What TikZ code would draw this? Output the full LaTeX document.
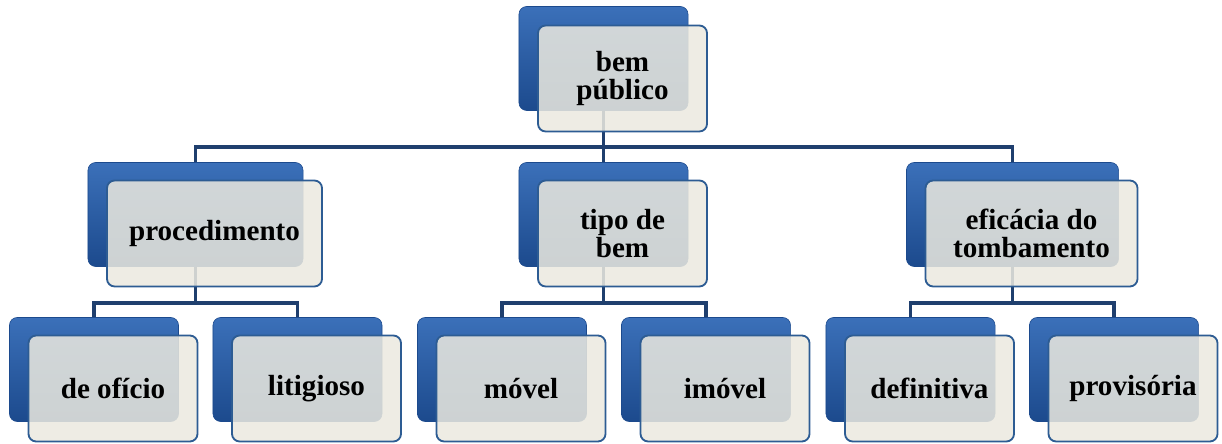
\documentclass[tikz,border=0pt]{standalone}
\usepackage{fontspec}
\setmainfont{Liberation Serif}
\usetikzlibrary{positioning}
\definecolor{blueTop}{HTML}{3B70B9}
\definecolor{blueMid}{HTML}{2459A5}
\definecolor{blueBot}{HTML}{1C4A8D}
\definecolor{paper}{HTML}{EBE9DF}
\definecolor{rim}{HTML}{2D5C93}
\definecolor{navyline}{HTML}{1F3F6E}

\begin{document}
\begin{tikzpicture}[x=0.025cm,y=-0.025cm]
    \useasboundingbox (0,0) rectangle (1222,444);
    \tikzset{back style/.style={rounded corners=5.5pt,
                                top color=blueTop,
                                middle color=blueMid,
                                bottom color=blueBot,
                                draw=blueBot,
                                minimum height=2.6cm,
                                inner sep=0pt,
                                outer sep=0pt},
             front style/.style={rounded corners=5.5pt,
                                 fill=paper,
                                 fill opacity=.86,
                                 text opacity=1,
                                 draw=rim,
                                 line width=1.3pt,
                                 minimum height=2.65cm,
                                 inner sep=0pt,
                                 outer sep=0pt,
                                 align=center,
                                 font=\fontsize{20.7}{19.5}\selectfont\bfseries},
             link/.style={draw=navyline,line width=2.8pt}}

    % busses of the two levels
    \coordinate (bus1) at (0,147);
    \coordinate (bus2) at (0,303);

    % back plates
    \node[back style,minimum width=4.225cm] (bem-b)  at (603.5,58.5) {};
    \node[back style,minimum width=5.375cm] (proc-b) at (195.5,214.5) {};
    \node[back style,minimum width=4.225cm] (tipo-b) at (603.5,214.5) {};
    \node[back style,minimum width=5.3cm]   (efic-b) at (1012.5,214.5) {};
    \foreach \n/\x in {ofic/94,liti/297.5,movel/502,imovel/706,defi/910.5,provi/1114}
      \node[back style,minimum width=4.225cm] (\n-b) at (\x,369.5) {};

    % connectors, behind the front plates
    \foreach \c in {proc,tipo,efic}
      \draw[link] (bem-b.south) -- (bem-b.south |- bus1) -| (\c-b.north);
    \foreach \p/\a/\b in {proc/ofic/liti,tipo/movel/imovel,efic/defi/provi}{%
      \draw[link] (\p-b.south) -- (\p-b.south |- bus2) -| (\a-b.north);
      \draw[link] (\p-b.south) -- (\p-b.south |- bus2) -| (\b-b.north);
    }

    % front plates with the texts
    \node[front style,minimum width=4.225cm] (bem)  at ([shift={(19,20)}]bem-b)  {bem\\público};
    \node[front style,minimum width=5.375cm] (proc) at ([shift={(19,19)}]proc-b) {procedimento};
    \node[front style,minimum width=4.225cm] (tipo) at ([shift={(19,19)}]tipo-b) {tipo de\\bem};
    \node[front style,minimum width=5.3cm]   (efic) at ([shift={(19,19)}]efic-b) {eficácia do\\tombamento};
    \foreach \n/\t in {ofic/de ofício,liti/litigioso,movel/móvel,imovel/imóvel,defi/definitiva,provi/provisória}
      \node[front style,minimum width=4.225cm] (\n) at ([shift={(19,19)}]\n-b) {\t};

\end{tikzpicture}
\end{document}
